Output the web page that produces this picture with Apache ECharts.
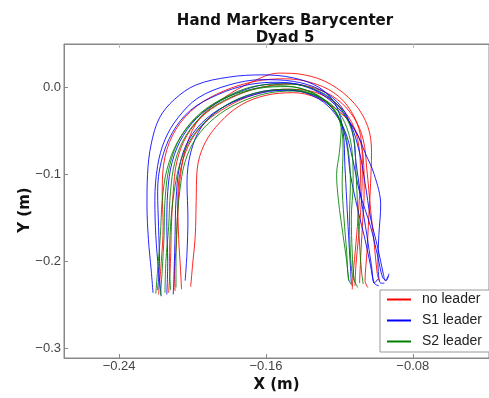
<!DOCTYPE html>
<html>
<head>
<meta charset="utf-8">
<script src="https://cdn.jsdelivr.net/npm/echarts@6/dist/echarts.min.js"></script>
<style>html,body{margin:0;padding:0;background:#fff;}#c{width:489px;height:398px;}</style>
</head>
<body>
<div id="c"></div>
<script>
// ---- data (metres) ----
const xTicks = [-0.24, -0.16, -0.08];
const yTicks = [0.0, -0.1, -0.2, -0.3];
const legendNames = ['no leader', 'S1 leader', 'S2 leader'];

const noLeaderRuns = [
  [[-0.2095,-0.234],[-0.2098,-0.215],[-0.2088,-0.18],[-0.2080,-0.14],[-0.2065,-0.10],[-0.2030,-0.065],[-0.1960,-0.035],[-0.1830,-0.012],[-0.1680,0.006],[-0.1530,0.0165],[-0.1390,0.0145],[-0.1250,0.004],[-0.1120,-0.018],[-0.1045,-0.045],[-0.1025,-0.075],[-0.1030,-0.11],[-0.1040,-0.15],[-0.1050,-0.19],[-0.1060,-0.222],[-0.1045,-0.230]],
  [[-0.2010,-0.229],[-0.2000,-0.205],[-0.1985,-0.17],[-0.1980,-0.13],[-0.1975,-0.095],[-0.1935,-0.065],[-0.1850,-0.040],[-0.1735,-0.020],[-0.1600,-0.009],[-0.1450,-0.006],[-0.1320,-0.012],[-0.1200,-0.028],[-0.1110,-0.050],[-0.1070,-0.080],[-0.1065,-0.12],[-0.1075,-0.16],[-0.1085,-0.20],[-0.1090,-0.225]],
  [[-0.2185,-0.238],[-0.2170,-0.20],[-0.2160,-0.16],[-0.2165,-0.12],[-0.2150,-0.08],[-0.2090,-0.048],[-0.1980,-0.022],[-0.1830,-0.004],[-0.1660,0.007],[-0.1500,0.010],[-0.1360,0.006],[-0.1230,-0.006],[-0.1140,-0.026],[-0.1085,-0.055],[-0.1075,-0.09],[-0.1080,-0.13],[-0.1095,-0.17],[-0.1110,-0.205],[-0.1115,-0.228]],
  [[-0.2130,-0.236],[-0.2120,-0.20],[-0.2115,-0.16],[-0.2105,-0.12],[-0.2085,-0.085],[-0.2030,-0.055],[-0.1930,-0.030],[-0.1790,-0.012],[-0.1630,0.000],[-0.1470,0.004],[-0.1330,-0.001],[-0.1210,-0.014],[-0.1120,-0.035],[-0.1070,-0.06],[-0.1050,-0.095],[-0.1030,-0.14],[-0.1010,-0.18],[-0.0995,-0.212],[-0.0985,-0.222]],
  [[-0.2060,-0.232],[-0.2065,-0.21],[-0.2075,-0.175],[-0.2080,-0.135],[-0.2070,-0.10],[-0.2025,-0.068],[-0.1940,-0.042],[-0.1810,-0.022],[-0.1660,-0.008],[-0.1500,-0.002],[-0.1360,-0.004],[-0.1240,-0.015],[-0.1150,-0.034],[-0.1100,-0.06],[-0.1085,-0.10],[-0.1095,-0.14],[-0.1110,-0.18],[-0.1125,-0.215],[-0.1130,-0.232]]
];

const s1LeaderRuns = [
  [[-0.2215,-0.236],[-0.2225,-0.21],[-0.2240,-0.175],[-0.2248,-0.135],[-0.2245,-0.100],[-0.2225,-0.065],[-0.2180,-0.035],[-0.2100,-0.014],[-0.1980,0.003],[-0.1800,0.012],[-0.1620,0.0145],[-0.1450,0.011],[-0.1310,0.000],[-0.1220,-0.020],[-0.1180,-0.050],[-0.1170,-0.09],[-0.1160,-0.13],[-0.1150,-0.17],[-0.1140,-0.205],[-0.1135,-0.226]],
  [[-0.2170,-0.240],[-0.2185,-0.21],[-0.2200,-0.17],[-0.2205,-0.13],[-0.2190,-0.09],[-0.2150,-0.06],[-0.2080,-0.035],[-0.1970,-0.012],[-0.1800,0.003],[-0.1620,0.009],[-0.1450,0.007],[-0.1300,-0.003],[-0.1190,-0.022],[-0.1130,-0.05],[-0.1110,-0.085],[-0.1080,-0.13],[-0.1050,-0.17],[-0.1025,-0.205],[-0.1010,-0.225],[-0.0990,-0.220]],
  [[-0.2040,-0.222],[-0.2030,-0.19],[-0.2025,-0.15],[-0.2030,-0.11],[-0.2010,-0.075],[-0.1950,-0.045],[-0.1850,-0.025],[-0.1710,-0.010],[-0.1550,-0.003],[-0.1400,-0.005],[-0.1280,-0.016],[-0.1200,-0.036],[-0.1160,-0.065],[-0.1140,-0.10],[-0.1100,-0.14],[-0.1060,-0.175],[-0.1030,-0.205],[-0.1010,-0.225],[-0.0985,-0.228]],
  [[-0.2140,-0.238],[-0.2135,-0.20],[-0.2140,-0.16],[-0.2135,-0.12],[-0.2110,-0.085],[-0.2050,-0.055],[-0.1950,-0.030],[-0.1800,-0.010],[-0.1640,0.002],[-0.1480,0.005],[-0.1340,-0.002],[-0.1220,-0.018],[-0.1140,-0.042],[-0.1090,-0.075],[-0.1060,-0.11],[-0.1030,-0.15],[-0.0990,-0.185],[-0.0960,-0.215],[-0.0950,-0.222],[-0.0935,-0.217]],
  [[-0.2105,-0.238],[-0.2100,-0.21],[-0.2095,-0.17],[-0.2090,-0.13],[-0.2070,-0.09],[-0.2020,-0.06],[-0.1920,-0.035],[-0.1780,-0.017],[-0.1620,-0.006],[-0.1470,-0.003],[-0.1340,-0.010],[-0.1240,-0.026],[-0.1170,-0.050],[-0.1130,-0.08],[-0.1090,-0.12],[-0.1030,-0.16],[-0.0990,-0.195],[-0.0965,-0.218],[-0.0945,-0.222],[-0.0930,-0.214]],
  [[-0.2190,-0.233],[-0.2180,-0.20],[-0.2185,-0.16],[-0.2190,-0.12],[-0.2170,-0.085],[-0.2110,-0.052],[-0.2010,-0.026],[-0.1860,-0.008],[-0.1700,0.003],[-0.1540,0.006],[-0.1400,0.002],[-0.1280,-0.010],[-0.1180,-0.030],[-0.1100,-0.055],[-0.1060,-0.075],[-0.1010,-0.10],[-0.0975,-0.135],[-0.0985,-0.17],[-0.0990,-0.20],[-0.0975,-0.225],[-0.0955,-0.225]]
];

const s2LeaderRuns = [
  [[-0.2200,-0.237],[-0.2190,-0.21],[-0.2175,-0.17],[-0.2165,-0.13],[-0.2140,-0.095],[-0.2080,-0.062],[-0.1980,-0.035],[-0.1840,-0.014],[-0.1680,-0.002],[-0.1520,0.002],[-0.1380,-0.003],[-0.1270,-0.016],[-0.1200,-0.038],[-0.1180,-0.07],[-0.1185,-0.11],[-0.1175,-0.15],[-0.1160,-0.19],[-0.1150,-0.22],[-0.1130,-0.228]],
  [[-0.2150,-0.236],[-0.2145,-0.20],[-0.2130,-0.16],[-0.2120,-0.12],[-0.2095,-0.085],[-0.2035,-0.055],[-0.1935,-0.030],[-0.1800,-0.012],[-0.1640,-0.001],[-0.1480,0.001],[-0.1350,-0.006],[-0.1250,-0.021],[-0.1180,-0.045],[-0.1150,-0.075],[-0.1140,-0.11],[-0.1145,-0.15],[-0.1140,-0.19],[-0.1130,-0.215],[-0.1115,-0.224]],
  [[-0.2090,-0.230],[-0.2090,-0.20],[-0.2085,-0.16],[-0.2070,-0.12],[-0.2040,-0.085],[-0.1980,-0.058],[-0.1880,-0.035],[-0.1750,-0.018],[-0.1600,-0.007],[-0.1450,-0.004],[-0.1320,-0.010],[-0.1220,-0.024],[-0.1160,-0.046],[-0.1130,-0.075],[-0.1125,-0.11],[-0.1135,-0.15],[-0.1130,-0.19],[-0.1120,-0.22],[-0.1100,-0.230]],
  [[-0.2175,-0.239],[-0.2165,-0.21],[-0.2155,-0.17],[-0.2150,-0.13],[-0.2125,-0.09],[-0.2065,-0.057],[-0.1960,-0.030],[-0.1810,-0.010],[-0.1650,0.002],[-0.1490,0.004],[-0.1360,0.000],[-0.1250,-0.012],[-0.1170,-0.032],[-0.1120,-0.06],[-0.1110,-0.095],[-0.1100,-0.14],[-0.1090,-0.18],[-0.1080,-0.21],[-0.1070,-0.226]],
  [[-0.2120,-0.233],[-0.2125,-0.20],[-0.2120,-0.16],[-0.2100,-0.12],[-0.2065,-0.085],[-0.2005,-0.058],[-0.1910,-0.035],[-0.1780,-0.016],[-0.1630,-0.005],[-0.1470,-0.002],[-0.1340,-0.008],[-0.1240,-0.022],[-0.1190,-0.045],[-0.1200,-0.075],[-0.1215,-0.10],[-0.1205,-0.13],[-0.1180,-0.17],[-0.1160,-0.20],[-0.1150,-0.222]]
];

const groupColors = ['#ff0000', '#0000ff', '#008000'];
const groups = [noLeaderRuns, s1LeaderRuns, s2LeaderRuns];

// ---- chart ----
const chart = echarts.init(document.getElementById('c'), null, {renderer: 'canvas'});
const series = [];
groups.forEach((runs, gi) => {
  runs.forEach(run => {
    series.push({
      type: 'line',
      name: legendNames[gi],
      data: run,
      smooth: 0.35,
      symbol: 'none',
      lineStyle: {width: 1, color: groupColors[gi], opacity: 0.85},
      itemStyle: {color: groupColors[gi]},
      animation: false,
      z: 2 + gi
    });
  });
});

const fmt = (v, d) => (v < 0 ? '\u2212' : '') + Math.abs(v).toFixed(d);

chart.setOption({
  animation: false,
  backgroundColor: '#fff',
  title: {
    text: 'Hand Markers Barycenter\nDyad 5',
    left: 280, top: 8, textAlign: 'center',
    textStyle: {fontFamily: 'DejaVu Sans', fontWeight: 'bold', fontSize: 15, lineHeight: 17, color: '#111'}
  },
  grid: {left: 64, top: 44, right: -5, bottom: 40, show: true, borderColor: '#888', borderWidth: 1, backgroundColor: 'transparent'},
  legend: {
    data: legendNames,
    orient: 'vertical',
    left: 380, top: 290,
    padding: [2, 8, 3, 7],
    itemGap: 6,
    itemWidth: 24, itemHeight: 2,
    icon: 'rect',
    borderColor: '#999', borderWidth: 1,
    backgroundColor: '#fff',
    textStyle: {fontFamily: 'Liberation Sans', fontSize: 14, color: '#222', padding: [0, 0, 0, 6], lineHeight: 15}
  },
  xAxis: [{
    type: 'value', min: -0.27, max: -0.0385,
    name: 'X (m)', nameLocation: 'middle', nameGap: 20, nameMoveOverlap: false,
    nameTextStyle: {fontFamily: 'DejaVu Sans', fontWeight: 'bold', fontSize: 15, color: '#111'},
    axisLine: {show: true, onZero: false, lineStyle: {color: '#888'}},
    axisTick: {show: true, inside: true, length: 4, customValues: xTicks, lineStyle: {color: '#888'}},
    axisLabel: {customValues: xTicks, formatter: v => fmt(v, 2), fontFamily: 'Liberation Sans', fontSize: 13, color: '#444', margin: 2},
    splitLine: {show: false}
  }, {
    type: 'value', position: 'top', min: -0.27, max: -0.0385,
    axisLine: {show: true, onZero: false, lineStyle: {color: '#888'}},
    axisTick: {show: true, inside: true, length: 4, customValues: xTicks, lineStyle: {color: '#bbb'}},
    axisLabel: {show: false},
    splitLine: {show: false}
  }],
  yAxis: {
    type: 'value', min: -0.311, max: 0.05,
    name: 'Y (m)', nameLocation: 'middle', nameGap: 31, nameRotate: 90, nameMoveOverlap: false,
    nameTextStyle: {fontFamily: 'DejaVu Sans', fontWeight: 'bold', fontSize: 15, color: '#111', padding: [0, 18, 0, 0]},
    axisLine: {show: true, onZero: false, lineStyle: {color: '#888'}},
    axisTick: {show: true, inside: true, length: 4, customValues: yTicks, lineStyle: {color: '#888'}},
    axisLabel: {customValues: yTicks, formatter: v => fmt(v, 1), fontFamily: 'Liberation Sans', fontSize: 13, color: '#444', margin: 3},
    splitLine: {show: false}
  },
  series: series
});
</script>
</body>
</html>
